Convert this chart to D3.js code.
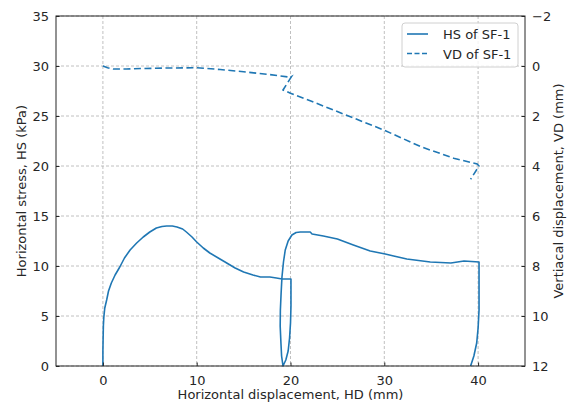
<!DOCTYPE html>
<html>
<head>
<meta charset="utf-8">
<script src="https://d3js.org/d3.v7.min.js"></script>
<style>
body { margin: 0; background: #fff; }
text { font-family: "DejaVu Sans", sans-serif; fill: #262626; }
</style>
</head>
<body>
<script>
//data
var hsX = [0, 0, 0.02, 0.05, 0.1, 0.2, 0.4, 0.6, 0.9, 1.3, 1.8, 2.3, 2.9, 3.6, 4.3, 5.0, 5.7, 6.3, 6.8, 7.4, 7.9, 8.5,
    8.9, 9.5, 10.0, 10.7, 11.4, 12.3, 13.2, 14.1, 15.0, 16.0, 16.8, 17.8, 18.5, 19.1, 20.05,
    20.05, 20.0, 19.9, 19.75, 19.5, 19.2, 19.05, 18.98, 18.9, 18.92, 19.0, 19.09, 19.25, 19.44, 19.75, 20.15, 20.6,
    21.05, 22.1, 22.3, 23.5, 25.0, 26.7, 28.5, 30.1, 31.0, 32.4, 34.9, 37.1, 38.5, 40.1,
    40.1, 40.1, 40.0, 39.85, 39.55, 39.2];
var hsY = [0, 1.5, 2.6, 4.0, 4.9, 5.8, 6.6, 7.5, 8.3, 9.1, 9.9, 10.8, 11.6, 12.3, 12.9, 13.4, 13.8, 13.95, 14.0, 14.0, 13.9, 13.7,
    13.4, 12.9, 12.4, 11.8, 11.3, 10.8, 10.3, 9.8, 9.4, 9.1, 8.9, 8.9, 8.8, 8.7, 8.7,
    6.0, 4.3, 2.8, 1.5, 0.6, 0, 1.0, 2.3, 4.0, 5.6, 7.3, 8.9, 10.4, 11.6, 12.5, 13.1, 13.35,
    13.4, 13.4, 13.2, 13.0, 12.7, 12.1, 11.5, 11.2, 11.0, 10.7, 10.4, 10.3, 10.5, 10.4,
    8.0, 5.6, 3.8, 2.3, 1.0, 0];
var vdX = [0, 0.5, 1.1, 2.5, 4.3, 7.0, 10.0, 12.5, 15.0, 17.5, 20.0, 20.1, 19.2, 20.0, 22.1, 25.7, 29.95, 33.9, 37.4, 39.9, 40.1, 39.2];
var vdY = [0, 0.07, 0.12, 0.12, 0.1, 0.08, 0.07, 0.14, 0.23, 0.33, 0.45, 0.43, 0.96, 1.09, 1.39, 1.93, 2.56, 3.23, 3.69, 3.92, 4.0, 4.53];

var xTicks = [0, 10, 20, 30, 40];
var hsTicks = [0, 5, 10, 15, 20, 25, 30, 35];
var vdTicks = [-2, 0, 2, 4, 6, 8, 10, 12];
var seriesNames = ["HS of SF-1", "VD of SF-1"];

var width = 572, height = 404;
var margin = {top: 16, right: 47, bottom: 38, left: 56};
var innerW = width - margin.left - margin.right,
    innerH = height - margin.top - margin.bottom;
var blue = "#1f77b4";

var svg = d3.select("body").append("svg")
    .attr("width", width)
    .attr("height", height);

var g = svg.append("g")
    .attr("transform", "translate(" + margin.left + "," + margin.top + ")");

//scales
var x = d3.scaleLinear().domain([-5, 45]).range([0, innerW]);
var yHS = d3.scaleLinear().domain([0, 35]).range([innerH, 0]);
var yVD = d3.scaleLinear().domain([-2, 12]).range([0, innerH]); //inverted axis

//grid lines
g.append("g").selectAll("line")
    .data(xTicks).enter().append("line")
    .attr("x1", function(d){ return x(d); })
    .attr("x2", function(d){ return x(d); })
    .attr("y1", 0).attr("y2", innerH)
    .attr("stroke", "#b0b0b0").attr("stroke-width", 0.8)
    .attr("stroke-dasharray", "3,2");
g.append("g").selectAll("line")
    .data(hsTicks).enter().append("line")
    .attr("x1", 0).attr("x2", innerW)
    .attr("y1", function(d){ return yHS(d); })
    .attr("y2", function(d){ return yHS(d); })
    .attr("stroke", "#b0b0b0").attr("stroke-width", 0.8)
    .attr("stroke-dasharray", "3,2");

//line generators
var hsLine = d3.line()
    .x(function(d, i){ return x(hsX[i]); })
    .y(function(d, i){ return yHS(hsY[i]); });
var vdLine = d3.line()
    .x(function(d, i){ return x(vdX[i]); })
    .y(function(d, i){ return yVD(vdY[i]); });

g.append("path")
    .attr("d", hsLine(hsX))
    .attr("fill", "none")
    .attr("stroke", blue)
    .attr("stroke-width", 1.6)
    .attr("stroke-linejoin", "round");

g.append("path")
    .attr("d", vdLine(vdX))
    .attr("fill", "none")
    .attr("stroke", blue)
    .attr("stroke-width", 1.6)
    .attr("stroke-dasharray", "7,3.5");

//axes, ticks pointing inward
var xAxis = g.append("g")
    .attr("transform", "translate(0," + innerH + ")")
    .call(d3.axisBottom(x).tickValues(xTicks).tickSizeInner(-3.5).tickSizeOuter(0).tickPadding(10));
var leftAxis = g.append("g")
    .call(d3.axisLeft(yHS).tickValues(hsTicks).tickSizeInner(-3.5).tickSizeOuter(0).tickPadding(7));
var rightAxis = g.append("g")
    .attr("transform", "translate(" + innerW + ",0)")
    .call(d3.axisRight(yVD).tickValues(vdTicks).tickSizeInner(-3.5).tickSizeOuter(0).tickPadding(7)
        .tickFormat(function(d){ return d < 0 ? "\u2212" + Math.abs(d) : d; }));

[xAxis, leftAxis, rightAxis].forEach(function(a){
    a.selectAll("text").style("font-size", "13px").attr("fill", "#262626");
    a.selectAll("line").attr("stroke", "#262626");
    a.select(".domain").remove();
});

//frame
g.append("rect")
    .attr("width", innerW).attr("height", innerH)
    .attr("fill", "none").attr("stroke", "#262626").attr("stroke-width", 1);

//axis titles
svg.append("text")
    .attr("x", margin.left + innerW / 2).attr("y", 399)
    .attr("text-anchor", "middle").style("font-size", "13px")
    .text("Horizontal displacement, HD (mm)");
svg.append("text")
    .attr("transform", "translate(26," + (margin.top + innerH / 2) + ") rotate(-90)")
    .attr("text-anchor", "middle").style("font-size", "13px")
    .text("Horizontal stress, HS (kPa)");
svg.append("text")
    .attr("transform", "translate(563," + (margin.top + innerH / 2) + ") rotate(-90)")
    .attr("text-anchor", "middle").style("font-size", "13px")
    .text("Vertiacal displacement, VD (mm)");

//legend
var legend = svg.append("g").attr("transform", "translate(402,23)");
legend.append("rect")
    .attr("width", 116).attr("height", 44).attr("rx", 3)
    .attr("fill", "#fff").attr("fill-opacity", 0.8)
    .attr("stroke", "#d0d0d0").attr("stroke-width", 1);
var rows = legend.selectAll(".row")
    .data(seriesNames).enter().append("g")
    .attr("transform", function(d, i){ return "translate(0," + (11 + i * 19.5) + ")"; });
rows.append("line")
    .attr("x1", 5).attr("x2", 26)
    .attr("stroke", blue).attr("stroke-width", 1.6)
    .attr("stroke-dasharray", function(d, i){ return i == 1 ? "5,2.5" : null; });
rows.append("text")
    .attr("x", 41).attr("y", 5)
    .style("font-size", "13px")
    .text(function(d){ return d; });
</script>
</body>
</html>
